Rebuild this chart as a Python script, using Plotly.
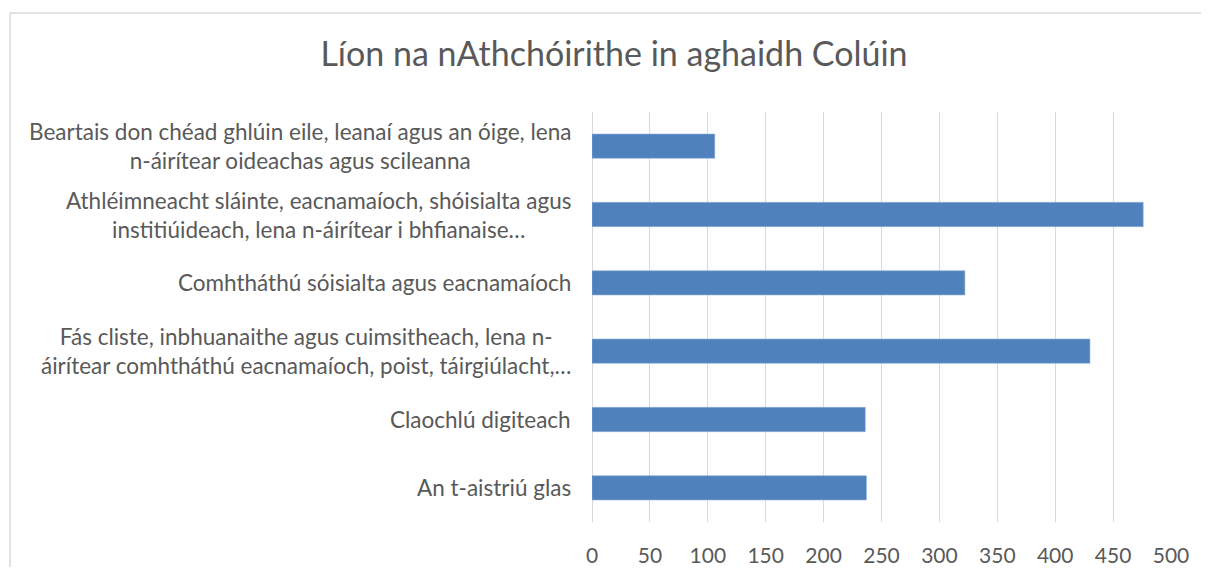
import plotly.graph_objects as go

# ---- data (bottom to top, as drawn) ----
categories = [
    "An t-aistriú glas",
    "Claochlú digiteach",
    "Fás cliste, inbhuanaithe agus cuimsitheach, lena n-<br>áirítear comhtháthú eacnamaíoch, poist, táirgiúlacht,…",
    "Comhtháthú sóisialta agus eacnamaíoch",
    "Athléimneacht sláinte, eacnamaíoch, shóisialta agus<br>institiúideach, lena n-áirítear i bhfianaise…",
    "Beartais don chéad ghlúin eile, leanaí agus an óige, lena<br>n-áirítear oideachas agus scileanna",
]
values = [237, 236, 430, 322, 476, 106]
x_ticks = [0, 50, 100, 150, 200, 250, 300, 350, 400, 450, 500]
title_text = "Líon na nAthchóirithe in aghaidh Colúin"

FONT = "Lato"
TXT = "#595959"
GRID = "#d9d9d9"
BAR = "#4f81bd"

# page offset of the figure (default body margin)
OFF = 8
W, H = 1193, 559
ML, MR, MT, MB = 584, 30, 104, 45
PW, PH = W - ML - MR, H - MT - MB

fig = go.Figure(
    go.Bar(
        x=values,
        y=categories,
        orientation="h",
        marker=dict(color=BAR, line=dict(color="#8eb0d8", width=0.6)),
        hoverinfo="x+y",
    )
)

annotations = []
for cat in categories:
    annotations.append(
        dict(
            x=0, xref="paper", y=cat, yref="y",
            text=cat, showarrow=False,
            xanchor="right", yanchor="middle", align="center",
            xshift=-19,
            font=dict(family=FONT, size=22.5, color=TXT),
        )
    )

def px_x(px):
    return (px - OFF - ML) / PW

def px_y(py):
    return (H - MB - (py - OFF)) / PH

shapes = [
    dict(type="line", xref="paper", yref="paper",
         x0=px_x(10), x1=px_x(10), y0=px_y(13), y1=px_y(600),
         line=dict(color=GRID, width=1.5)),
    dict(type="line", xref="paper", yref="paper",
         x0=px_x(10), x1=px_x(1230), y0=px_y(13), y1=px_y(13),
         line=dict(color=GRID, width=1.5)),
]

fig.update_layout(
    width=W, height=H,
    autosize=False,
    margin=dict(l=ML, r=MR, t=MT, b=MB, pad=0, autoexpand=False),
    paper_bgcolor="white", plot_bgcolor="white",
    showlegend=False,
    bargap=0.645,
    title=dict(
        text=title_text, x=(614 - OFF) / W, xanchor="center", xref="container",
        y=1 - (54 - OFF) / H, yanchor="middle", yref="container",
        font=dict(family=FONT, size=34, color=TXT),
        automargin=False,
    ),
    xaxis=dict(
        range=[0, 500], tickvals=x_ticks, ticktext=[str(v) for v in x_ticks],
        showgrid=True, gridcolor=GRID, gridwidth=1.3,
        zeroline=True, zerolinecolor=GRID, zerolinewidth=1.3,
        showline=False, ticks="", ticklabelstandoff=19,
        tickfont=dict(family=FONT, size=21, color=TXT),
        automargin=False,
        fixedrange=True,
    ),
    yaxis=dict(
        showticklabels=False, showgrid=False, zeroline=False,
        showline=False, ticks="", fixedrange=True, automargin=False,
    ),
    annotations=annotations,
    shapes=shapes,
)

fig.write_html("out.html")
